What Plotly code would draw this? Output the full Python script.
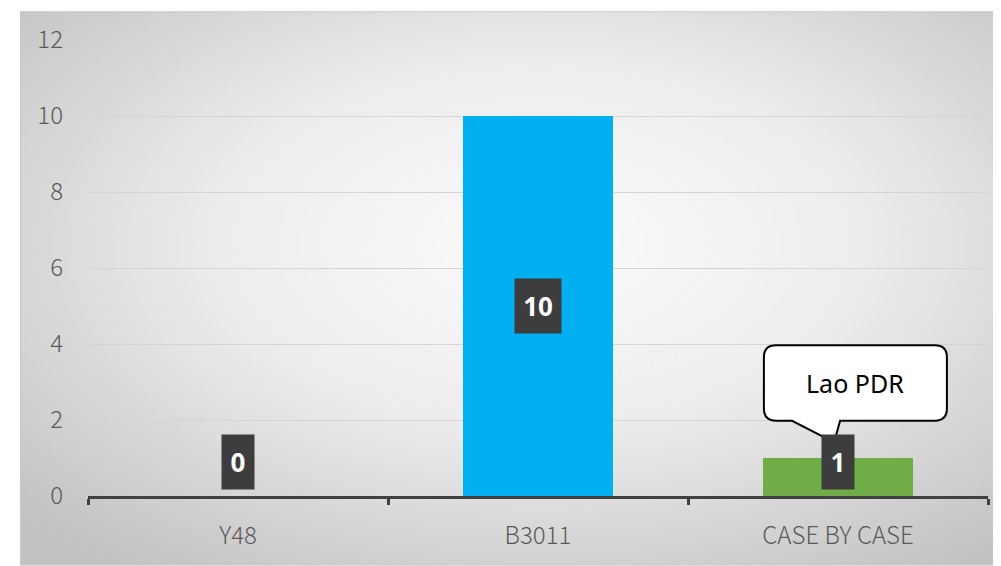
import base64
import plotly.graph_objects as go

categories = ["Y48", "B3011", "CASE BY CASE"]
values = [0, 10, 1]
bar_colors = ["#4472C4", "#00B0F0", "#70AD47"]
y_ticks = [0, 2, 4, 6, 8, 10, 12]
callout_text = "Lao PDR"
callout_category_index = 2

svg = (
    '<svg xmlns="http://www.w3.org/2000/svg" width="981" height="559" '
    'viewBox="0 0 981 559" preserveAspectRatio="none">'
    '<defs><radialGradient id="g" cx="0.53" cy="0.42" r="0.72">'
    '<stop offset="0" stop-color="#fbfbfb"/>'
    '<stop offset="0.45" stop-color="#ededed"/>'
    '<stop offset="1" stop-color="#c2c2c2"/>'
    '</radialGradient></defs>'
    '<rect x="0" y="0" width="981" height="559" fill="url(#g)" '
    'stroke="#c8c8c8" stroke-width="2"/></svg>'
)
svg_uri = "data:image/svg+xml;base64," + base64.b64encode(svg.encode()).decode()

fig = go.Figure()
fig.add_trace(go.Bar(
    x=categories, y=values,
    marker=dict(color=bar_colors, line=dict(width=0)),
    hoverinfo="x+y",
))

# data labels
for cat, v in zip(categories, values):
    txt = str(v)
    w = 18 + 14 * len(txt)
    if v / 2 * (460 / 12) < 33:
        ann = dict(y=0, yanchor="bottom", yshift=6)
    else:
        ann = dict(y=v / 2, yanchor="middle")
    fig.add_annotation(
        x=cat, xref="x", yref="y", text="<b>%s</b>" % txt, showarrow=False,
        font=dict(family="Noto Sans", size=26, color="white"),
        bgcolor="#3d3d3d", borderpad=0, width=w, height=54,
        align="center", valign="middle", **ann,
    )

# callout shape
cx = callout_category_index
l, r = cx - 0.247, cx + 0.363
t, b = 3.97, 1.98
rx, ry = 0.04, 0.32
p1, p2 = cx - 0.153, cx + 0.007
tipx, tipy = cx - 0.013, 1.41
path = (
    f"M {l+rx},{t} L {r-rx},{t} Q {r},{t} {r},{t-ry} "
    f"L {r},{b+ry} Q {r},{b} {r-rx},{b} "
    f"L {p2},{b} L {tipx},{tipy} L {p1},{b} "
    f"L {l+rx},{b} Q {l},{b} {l},{b+ry} "
    f"L {l},{t-ry} Q {l},{t} {l+rx},{t} Z"
)
fig.add_shape(type="path", path=path, xref="x", yref="y",
              fillcolor="white", line=dict(color="black", width=2), layer="above")
fig.add_annotation(
    x=(l + r) / 2, y=(t + b) / 2, xref="x", yref="y", text=callout_text,
    showarrow=False, font=dict(family="Noto Sans", size=25, color="black"),
)

fig.add_layout_image(dict(
    source=svg_uri, xref="paper", yref="paper",
    x=-68 / 900, y=489 / 460, sizex=981 / 900, sizey=559 / 460,
    sizing="stretch", layer="below", xanchor="left", yanchor="top",
))

axis_font = dict(family="Noto Sans CJK JP", size=24, color="#595959", weight=300)

fig.update_layout(
    width=1001, height=566,
    margin=dict(l=80, r=21, t=28, b=78),
    paper_bgcolor="white", plot_bgcolor="rgba(0,0,0,0)",
    bargap=0.5, showlegend=False,
    font=dict(family="Noto Sans CJK JP", color="#595959", size=18),
)
fig.update_xaxes(
    showline=True, linecolor="#404040", linewidth=3,
    ticks="outside", tickson="boundaries", ticklen=6, tickwidth=3, tickcolor="#404040",
    tickfont=axis_font, ticklabelstandoff=16,
    showgrid=False,
)
fig.update_yaxes(
    range=[0, 12], tickvals=y_ticks, showgrid=True, gridcolor="#d4d4d4", gridwidth=1,
    zeroline=False, showline=False, ticks="",
    tickfont=axis_font, ticklabelstandoff=24,
)

fig.write_html("out.html")
